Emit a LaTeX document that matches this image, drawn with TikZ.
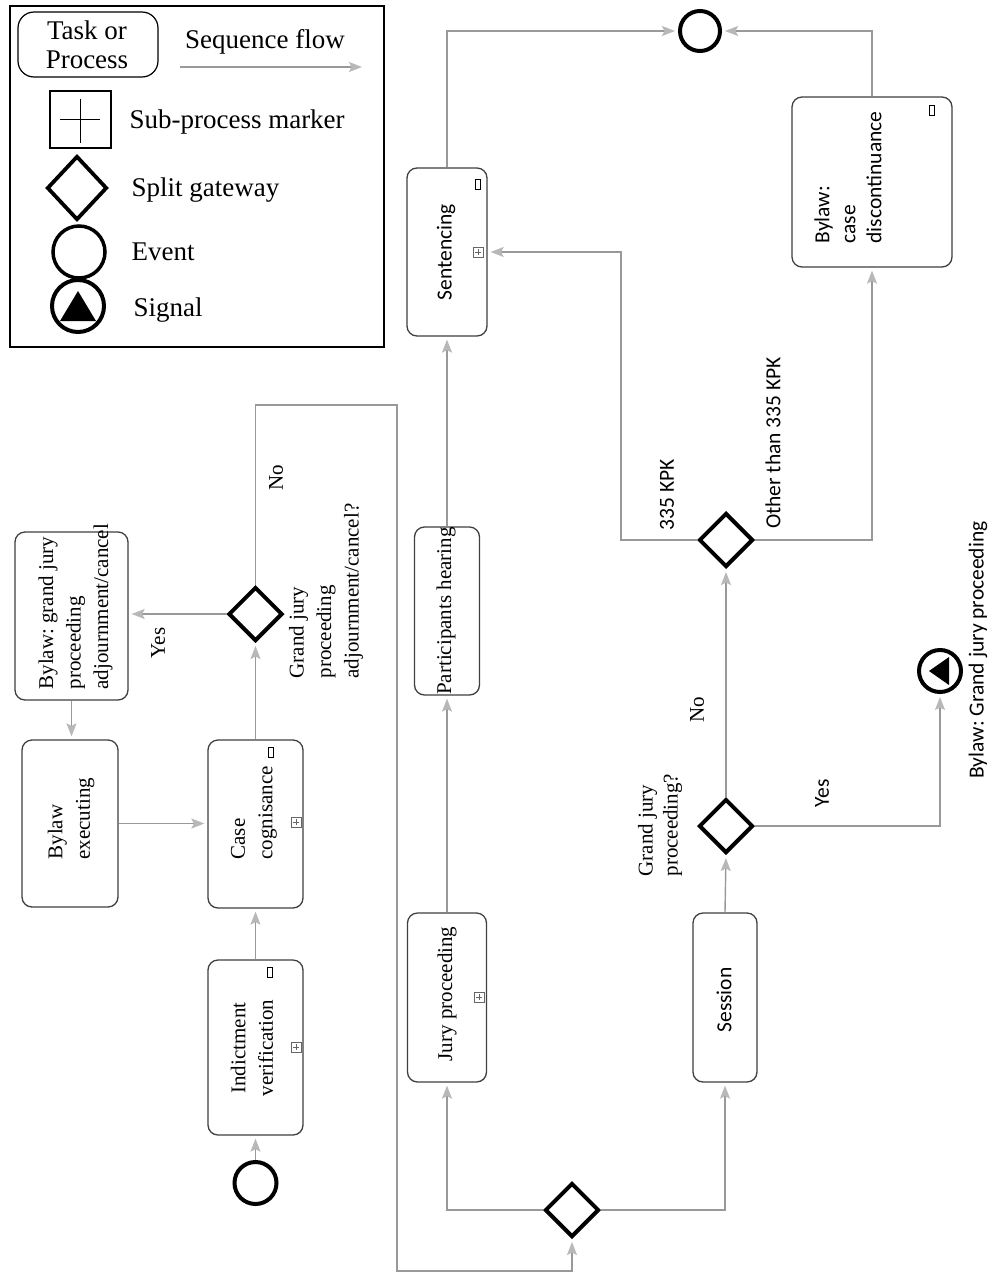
\documentclass[tikz,border=0pt]{standalone}
\usepackage{fontspec}
\setmainfont{Liberation Serif}
\newfontfamily\calibri{Carlito}
\frenchspacing
\usetikzlibrary{arrows.meta,shapes.geometric,calc}
\begin{document}
\begin{tikzpicture}[x=1pt,y=-1pt,
  box/.style={draw=black!75, line width=1.3pt, rounded corners=10pt, fill=white, inner sep=0pt},
  gate/.style={diamond, draw=black, line width=4pt, minimum width=54pt, minimum height=54pt, inner sep=0pt, aspect=1},
  evt/.style={circle, draw=black, line width=4pt, minimum size=42pt, inner sep=0pt},
  flow/.style={draw=black!40, line width=1.4pt, shorten >=3pt, -{Stealth[length=13pt,width=10pt,inset=2.5pt,color=black!28,fill=black!28]}},
  serif/.style={font=\fontsize{21}{27.5}\selectfont},
  sans/.style={font=\calibri\fontsize{21.5}{26}\selectfont},
  legtext/.style={font=\fontsize{27}{29}\selectfont},
  loopmark/.style={draw=black, line width=0.9pt, minimum width=5pt, minimum height=10pt, inner sep=0pt},
  plusbox/.style={draw=black!60, line width=0.8pt, minimum size=10pt, inner sep=0pt,
    path picture={\draw[black!60,line width=0.8pt]
      ([yshift=-2pt]path picture bounding box.north) -- ([yshift=2pt]path picture bounding box.south)
      ([xshift=2pt]path picture bounding box.west) -- ([xshift=-2pt]path picture bounding box.east);}},
]
\useasboundingbox (0,0) rectangle (990,1274);
\fill[white] (0,0) rectangle (990,1274);

% ---------- legend ----------
\node[draw=black, line width=1.5pt, minimum width=374pt, minimum height=341pt, inner sep=0pt] (legend) at (197,176.5) {};
\node[draw=black, line width=1.2pt, rounded corners=16pt, minimum width=140pt, minimum height=65pt, inner sep=0pt] (lgtask) at (88,44.5) {};
\node[legtext, align=center] (lgtaskT) at (87,45) {Task or\\Process};
\node[legtext] (lgseqT) at (265,42) {Sequence flow};
\coordinate (lgA) at (180,67);
\coordinate (lgB) at (365,67);
\draw[flow] (lgA) -- (lgB);
\node[draw=black, line width=1.2pt, minimum width=61pt, minimum height=57pt, inner sep=0pt,
  path picture={\draw[black,line width=1.1pt] ($(path picture bounding box.center)+(0,-21)$) -- ($(path picture bounding box.center)+(0,23)$)
   ($(path picture bounding box.center)+(-21,0)$) -- ($(path picture bounding box.center)+(19,0)$);}] (lgsub) at (80.5,119.5) {};
\node[legtext, anchor=west] (lgsubT) at (126,122) {Sub-process marker};
\node[diamond, draw=black, line width=3.8pt, minimum width=60pt, minimum height=64pt, inner sep=0pt] (lggate) at (77,188) {};
\node[legtext, anchor=west] (lggateT) at (128,190) {Split gateway};
\node[circle, draw=black, line width=3.5pt, minimum size=52pt, inner sep=0pt] (lgevt) at (79,252) {};
\node[legtext, anchor=west] (lgevtT) at (128,252) {Event};
\node[circle, draw=black, line width=4pt, minimum size=52pt, inner sep=0pt] (lgsig) at (78,306) {};
\fill[black] ($(lgsig)+(0,-15)$) -- ($(lgsig)+(-18,15)$) -- ($(lgsig)+(18,15)$) -- cycle;
\node[legtext, anchor=west] (lgsigT) at (130,310) {Signal};

% ---------- tasks ----------
\node[box, minimum width=113pt, minimum height=168pt] (bgj) at (71.5,616) {};
\node[box, minimum width=96pt, minimum height=167pt] (bex) at (70,823.5) {};
\node[box, minimum width=95pt, minimum height=168pt] (cc) at (255.5,824) {};
\node[box, minimum width=95pt, minimum height=175pt] (iv) at (255.5,1047.5) {};
\node[box, minimum width=79pt, minimum height=169pt] (jp) at (447,997.5) {};
\node[box, minimum width=65pt, minimum height=168pt] (ph) at (447,611) {};
\node[box, minimum width=80pt, minimum height=168pt] (sen) at (447,252) {};
\node[box, minimum width=160pt, minimum height=170pt] (bcd) at (872,182) {};
\node[box, minimum width=64pt, minimum height=169pt] (ses) at (725,997.5) {};

% ---------- gateways and events ----------
\node[gate] (g1) at (255.5,614) {};
\node[gate] (g0) at (572,1210) {};
\node[gate] (g2) at (726,826) {};
\node[gate] (g3) at (726,540) {};
\node[evt] (start) at (255.5,1183) {};
\node[evt, minimum size=40pt] (end) at (700,31) {};
\node[evt] (sig) at (940,671) {};
\fill[black] ($(sig)+(-11,0)$) -- ($(sig)+(9,-14)$) -- ($(sig)+(9,14)$) -- cycle;

% ---------- markers ----------
\node[loopmark] (m1) at (271,752) {};
\node[loopmark] (m2) at (270,972) {};
\node[loopmark] (m3) at (478,184) {};
\node[loopmark] (m4) at (932,110) {};
\node[plusbox] (p1) at (296,822) {};
\node[plusbox] (p2) at (296,1047) {};
\node[plusbox] (p3) at (479,997) {};
\node[plusbox] (p4) at (478,252) {};

% ---------- texts ----------
\node[serif, rotate=90, anchor=west, align=left] (bgjT) at (75.5,693) {Bylaw: grand jury\\proceeding\\adjournment/cancel};
\node[serif, rotate=90, anchor=west, align=left] (bexT) at (71,863) {Bylaw\\executing};
\node[serif, rotate=90, anchor=west, align=left] (ccT) at (254,863) {Case\\cognisance};
\node[serif, rotate=90, align=center] (ivT) at (252,1048) {Indictment\\verification};
\node[serif, rotate=90] (jpT) at (447,994) {Jury proceeding};
\node[serif, rotate=90, inner sep=0pt] (phT) at (446,611) {Participants hearing};
\node[sans, rotate=90] (senT) at (446,252) {Sentencing};
\node[sans, rotate=90, anchor=west, align=left] (bcdT) at (848,247) {Bylaw:\\case\\discontinuance};
\node[sans, rotate=90] (sesT) at (724,1000) {Session};
\node[serif, rotate=90, anchor=west, align=left] (g1T) at (326,682) {Grand jury\\proceeding\\adjournment/cancel?};
\node[serif, rotate=90, anchor=west, align=left, font=\fontsize{21}{25}\selectfont] (g2T) at (660,880) {Grand jury\\proceeding?};
\node[serif, rotate=90] (yes1) at (158,643) {Yes};
\node[serif, rotate=90] (no1) at (276,478) {No};
\node[serif, rotate=90] (no2) at (697,710) {No};
\node[sans, rotate=90] (yes2) at (822,793) {Yes};
\node[sans, rotate=90] (kpk) at (667,495) {335 KPK};
\node[sans, rotate=90] (other) at (773,443) {Other than 335 KPK};
\node[sans, rotate=90] (sigT) at (978,650) {Bylaw: Grand jury proceeding};

% ---------- connectors ----------
\coordinate (loopTop) at (397,405);
\coordinate (loopBot) at (397,1271);
\coordinate (kpkTurn) at (621,540);
\draw[flow] (start.north) -- (iv.south);
\draw[flow] (iv.north) -- (cc.south);
\draw[flow] (cc.north) -- (g1.south);
\draw[flow] (g1.west) -- (g1.west -| bgj.east);
\draw[flow] (bgj.south) -- (bgj.south |- bex.north);
\draw[flow] (bex.east) -- (bex.east -| cc.west);
\draw[flow] (g1.north) |- (loopTop) -- (loopBot) -| (g0.south);
\draw[flow] (g0.west) -| (jp.south);
\draw[flow] (g0.east) -| (ses.south);
\draw[flow] (jp.north) -- (ph.south);
\draw[flow] (ph.north) -- (sen.south);
\draw[flow] (sen.north) |- (end.west);
\draw[flow] (bcd.north) |- (end.east);
\draw[flow] (ses.north) -- (g2.south);
\draw[flow] (g2.north) -- (g3.south);
\draw[flow] (g2.east) -| (sig.south);
\draw[flow] (g3.west) -- (kpkTurn) |- (sen.east);
\draw[flow] (g3.east) -| (bcd.south);
\end{tikzpicture}
\end{document}
